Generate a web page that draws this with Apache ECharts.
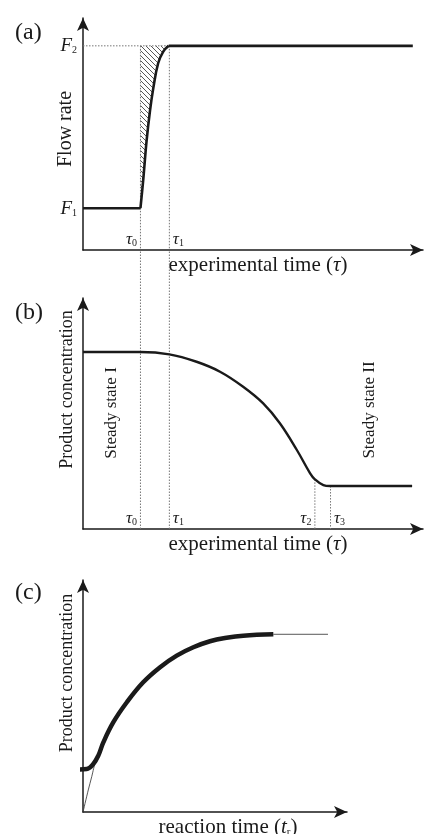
<!DOCTYPE html>
<html>
<head>
<meta charset="utf-8">
<script src="https://cdn.jsdelivr.net/npm/echarts@6/dist/echarts.min.js"></script>
<style>
  html, body { margin: 0; padding: 0; background: #fff; }
  #chart { width: 429px; height: 834px; }
</style>
</head>
<body>
<div id="chart"></div>
<script>
// panel (a): flow rate step, F1 -> F2
const flowLow = [[0, 18], [16.9, 18]]
const flowRise = [[16.9, 18], [17.7, 30], [18.7, 47], [19.7, 60], [20.7, 70], [22.1, 80.5], [23.6, 85.5], [25.2, 88]]
const flowHigh = [[25.2, 88], [97, 88]]
const flowLevels = [18, 88]
const flowLevelNames = ['1', '2']
const tauA = [16.9, 25.4]
const tauANames = ['0', '1']

// panel (b): product concentration vs experimental time
const concB = [[0, 76.6], [16.8, 76.6], [25.4, 75.6], [33.4, 72.4], [40.3, 68.1], [47.1, 61.6], [53, 54.4], [57.9, 45.8],
  [62.9, 34.2], [66.8, 24.1], [68.2, 21.5], [70.7, 19], [72.6, 18.6], [96.8, 18.6]]
const tauB = [16.9, 25.4, 68.2, 72.8]
const tauBNames = ['0', '1', '2', '3']
const tauBFoot = [0, 0, 21.5, 18.6]

// panel (c): product concentration vs reaction time
const concC = [[-5.2, 18.2], [1.4, 18.5], [3.9, 20.7], [5.8, 24.3], [7.7, 30], [11.5, 38.7], [16.6, 47.3], [22.8, 55.9],
  [29.2, 62.4], [35.5, 67.4], [41.8, 71], [48.1, 73.6], [54.4, 75.1], [60.7, 76], [72.1, 76.6]]
const plateauC = [[72.1, 76.6], [92.8, 76.6]]
const initialC = [[0, 0], [2.0, 9.5], [3.3, 15.2], [4.5, 21.1]]

const SERIF = 'Liberation Serif'
const INK = '#1a1a1a'

const gridA = { left: 83, top: 18, width: 340, height: 232 }
const gridB = { left: 83, top: 298, width: 340, height: 231 }
const gridC = { left: 83, top: 580, width: 264, height: 232 }

// how far (in panel b units) panel a's x-axis sits above panel b's x-axis
const bReach = (gridB.top + gridB.height - (gridA.top + gridA.height)) / gridB.height * 100

function hatch() {
  const c = document.createElement('canvas')
  c.width = 5
  c.height = 5
  const ctx = c.getContext('2d')
  ctx.strokeStyle = '#444'
  ctx.lineWidth = 0.9
  ctx.beginPath()
  ctx.moveTo(-1, -1)
  ctx.lineTo(6, 6)
  ctx.stroke()
  return c
}

const axisLine = {
  onZero: false,
  symbol: ['none', 'arrow'],
  symbolSize: [9, 13],
  lineStyle: { color: INK, width: 1.5 }
}

const tauRich = {
  t: { fontFamily: SERIF, fontStyle: 'italic', fontSize: 17, color: INK, verticalAlign: 'bottom', lineHeight: 18 },
  s: { fontFamily: SERIF, fontSize: 10, color: INK, verticalAlign: 'bottom', lineHeight: 10 },
  g: { width: 18 }
}

function tauFormatter(vals, names, sides) {
  return function (v) {
    const i = vals.indexOf(v)
    if (i < 0) return ''
    return sides[i] === 'l' ? '{t|τ}{s|' + names[i] + '}{g|}' : '{g|}{t|τ}{s|' + names[i] + '}'
  }
}

const nameRich = {
  n: { fontFamily: SERIF, fontSize: 21, color: INK },
  i: { fontFamily: SERIF, fontSize: 21, fontStyle: 'italic', color: INK },
  s: { fontFamily: SERIF, fontSize: 11, color: INK, verticalAlign: 'bottom', lineHeight: 12 }
}

function xAxisOf(grid, max, name, labels, namePad) {
  return {
    type: 'value', gridIndex: grid, min: 0, max: max,
    axisLine: axisLine,
    axisTick: { show: false },
    splitLine: { show: false },
    axisLabel: labels,
    name: name,
    nameLocation: 'middle',
    nameGap: 5,
    nameMoveOverlap: false,
    nameTextStyle: { fontFamily: SERIF, fontSize: 21, color: INK, verticalAlign: 'top', padding: namePad, rich: nameRich }
  }
}

function yAxisOf(grid, name, labels, pad, size) {
  return {
    type: 'value', gridIndex: grid, min: 0, max: 100,
    axisLine: axisLine,
    axisTick: { show: false },
    splitLine: { show: false },
    axisLabel: labels,
    name: name,
    nameLocation: 'middle',
    nameRotate: 90,
    nameGap: 7,
    nameMoveOverlap: false,
    nameTextStyle: { fontFamily: SERIF, fontSize: size, color: INK, padding: pad }
  }
}

const dotted = { color: '#777', width: 1, type: [1.5, 1.5] }

function vline(x, y0, y1, xi, clip) {
  return {
    type: 'line', xAxisIndex: xi, yAxisIndex: xi, data: [[x, y0], [x, y1]],
    symbol: 'none', lineStyle: dotted, clip: clip, silent: true, z: 1
  }
}

function plain(xi, data, style, extra) {
  return Object.assign({
    type: 'line', xAxisIndex: xi, yAxisIndex: xi, data: data,
    symbol: 'none', lineStyle: style, z: 3
  }, extra || {})
}

const series = []

// (a) hatched area between the rise and F2
series.push(plain(0, flowRise, { width: 0, opacity: 0 }, {
  smooth: 0.4, z: 1,
  areaStyle: { origin: flowLevels[1], color: { image: hatch(), repeat: 'repeat' }, opacity: 1 }
}))
// (a) F2 dotted guide
series.push(plain(0, [[0, flowLevels[1]], [tauA[1], flowLevels[1]]], dotted, { z: 1 }))
tauA.forEach(function (t) {
  series.push(vline(t, flowLevels[1], 0, 0, true))
  series.push(vline(t, 0, bReach, 1, false))
})
const thickA = { color: INK, width: 2.6, join: 'round' }
series.push(plain(0, flowLow, thickA))
series.push(plain(0, flowRise, thickA, { smooth: 0.4 }))
series.push(plain(0, flowHigh, thickA))

// (b)
tauB.slice(2).forEach(function (t, k) {
  series.push(vline(t, tauBFoot[k + 2], 0, 1, true))
})
series.push(plain(1, concB, { color: INK, width: 2.4 }, { smooth: 0.4 }))

// (c)
series.push(plain(2, initialC, { color: '#444', width: 0.9 }, { smooth: 0.3, clip: false, z: 2 }))
series.push(plain(2, plateauC, { color: '#444', width: 0.9 }, { z: 2 }))
series.push(plain(2, concC, { color: INK, width: 4.5, cap: 'butt' }, { smooth: 0.4, clip: false }))

const letter = function (t, top) {
  return { text: t, left: 10, top: top, textStyle: { fontFamily: SERIF, fontSize: 24, fontWeight: 'normal', color: INK } }
}

const option = {
  animation: false,
  backgroundColor: '#fff',
  title: [letter('(a)', 16), letter('(b)', 296), letter('(c)', 576)],
  grid: [
    Object.assign({ outerBoundsMode: 'none' }, gridA),
    Object.assign({ outerBoundsMode: 'none' }, gridB),
    Object.assign({ outerBoundsMode: 'none' }, gridC)
  ],
  xAxis: [
    xAxisOf(0, 100, '{n|experimental time (}{i|τ}{n|)}', {
      show: true, inside: true, margin: 2, customValues: tauA,
      formatter: tauFormatter(tauA, tauANames, ['l', 'r']), rich: tauRich
    }, [0, 0, 0, 10]),
    xAxisOf(1, 100, '{n|experimental time (}{i|τ}{n|)}', {
      show: true, inside: true, margin: 2, customValues: tauB,
      formatter: tauFormatter(tauB, tauBNames, ['l', 'r', 'l', 'r']), rich: tauRich
    }, [0, 0, 0, 10]),
    xAxisOf(2, 100, '{n|reaction time (}{i|t}{s|r}{n|)}', { show: false }, [0, 0, 0, 26])
  ],
  yAxis: [
    yAxisOf(0, 'Flow rate', {
      show: true, margin: 6, customValues: flowLevels,
      formatter: function (v) {
        const i = flowLevels.indexOf(v)
        return i < 0 ? '' : '{f|F}{s|' + flowLevelNames[i] + '}'
      },
      rich: {
        f: { fontFamily: SERIF, fontStyle: 'italic', fontSize: 19, color: INK, verticalAlign: 'bottom', lineHeight: 20 },
        s: { fontFamily: SERIF, fontSize: 10, color: INK, verticalAlign: 'bottom', lineHeight: 10 }
      }
    }, [0, 0, 0, 10], 20),
    yAxisOf(1, 'Product concentration', { show: false }, [0, 0, 0, 48], 18),
    yAxisOf(2, 'Product concentration', { show: false }, [0, 0, 0, 46], 18)
  ],
  graphic: [
    {
      type: 'text', x: 112, y: 413, rotation: Math.PI / 2,
      style: { text: 'Steady state I', font: '17px "Liberation Serif"', fill: INK, align: 'center', verticalAlign: 'middle' }
    },
    {
      type: 'text', x: 370, y: 410, rotation: Math.PI / 2,
      style: { text: 'Steady state II', font: '17px "Liberation Serif"', fill: INK, align: 'center', verticalAlign: 'middle' }
    }
  ],
  series: series
}

const chart = echarts.init(document.getElementById('chart'), null, { renderer: 'canvas' })
chart.setOption(option)
</script>
</body>
</html>
